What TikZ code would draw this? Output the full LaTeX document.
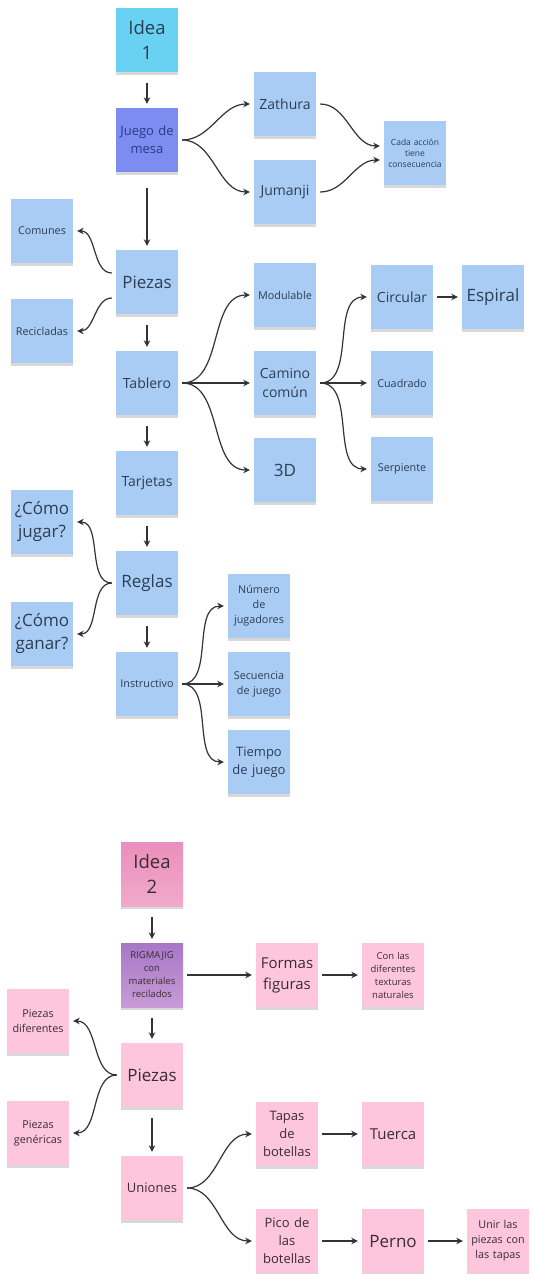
\documentclass[tikz,border=0pt]{standalone}
\usepackage{fontspec}
\setmainfont{Open Sans}
\usepackage{tikz}
\usetikzlibrary{positioning,shadows,arrows.meta}

\definecolor{notecyan}{HTML}{69D2F2}
\definecolor{notedeep}{HTML}{7D8CF1}
\definecolor{noteblue}{HTML}{A9CCF4}
\definecolor{notepink}{HTML}{FDC6DC}
\definecolor{ideapinktop}{HTML}{E98FBB}
\definecolor{ideapinkbot}{HTML}{F2A9CB}
\definecolor{rigtop}{HTML}{A877C6}
\definecolor{rigbot}{HTML}{C89BD7}
\definecolor{textblue}{HTML}{2B3E55}
\definecolor{textdeep}{HTML}{2C3A86}
\definecolor{textpink}{HTML}{3A2C33}
\definecolor{arrowc}{HTML}{333333}

\begin{document}
\begin{tikzpicture}[x=1pt,y=-1pt,node distance=100pt,on grid,
   note/.style={rectangle, minimum width=62pt, minimum height=64pt, inner sep=0pt,
     text width=62pt, align=center, fill=noteblue, text=textblue,
     drop shadow={opacity=0.3, shadow xshift=0pt, shadow yshift=-3pt}},
   pinknote/.style={note, fill=notepink, text=textpink},
   fxl/.style={font=\fontsize{18.5}{25}\selectfont},
   fbig/.style={font=\fontsize{17}{23}\selectfont},
   fmid/.style={font=\fontsize{14}{19}\selectfont},
   fnorm/.style={font=\fontsize{13}{18}\selectfont},
   fsmall/.style={font=\fontsize{10.8}{15}\selectfont},
   ftiny/.style={font=\fontsize{9.5}{13}\selectfont},
   fmini/.style={font=\fontsize{8.5}{11}\selectfont},
   vedge/.style={shorten <=11pt}]
   \path[use as bounding box, fill=white] (0,0) rectangle (534,1274);

   % Idea 1
   \node[note, fill=notecyan, fxl] (i1) at (147,40) {Idea\\1};
   \node[note, fill=notedeep, text=textdeep, fnorm] (jm) [below=100pt of i1] {Juego de\\mesa};
   \node[note, fmid] (za) [above right=36pt and 138pt of jm] {Zathura};
   \node[note, fmid] (ju) [below=88pt of za] {Jumanji};
   \node[note, fmini] (ca) [below right=49pt and 130pt of za] {Cada acción\\tiene\\consecuencia};
   \node[note, fbig] (pz) [below=142pt of jm] {Piezas};
   \node[note, fsmall] (co) [above left=51pt and 105pt of pz] {Comunes};
   \node[note, fsmall] (rc) [below=100pt of co] {Recicladas};
   \node[note, fmid] (tb) [below=101pt of pz] {Tablero};
   \node[note, fsmall] (mo) [above right=88pt and 138pt of tb] {Modulable};
   \node[note, fmid] (cc) [right=138pt of tb] {Camino\\común};
   \node[note, fbig] (td) [below=87pt of cc] {3D};
   \node[note, fmid] (ci) [above right=86pt and 117pt of cc] {Circular};
   \node[note, fsmall] (cu) [right=117pt of cc] {Cuadrado};
   \node[note, fsmall] (se) [below right=86pt and 117pt of cc] {Serpiente};
   \node[note, fbig] (es) [right=91pt of ci] {Espiral};
   \node[note, fmid] (ta) [below=100pt of tb] {Tarjetas};
   \node[note, fbig] (rg) [below=100pt of ta] {Reglas};
   \node[note, fbig] (cj) [above left=61pt and 105pt of rg] {¿Cómo\\jugar?};
   \node[note, fbig] (cg) [below left=51pt and 105pt of rg] {¿Cómo\\ganar?};
   \node[note, fsmall] (ins) [below=101pt of rg] {Instructivo};
   \node[note, fsmall] (nu) [above right=78pt and 112pt of ins] {Número\\de\\jugadores};
   \node[note, fsmall] (sq) [right=112pt of ins] {Secuencia\\de juego};
   \node[note, fnorm] (ti) [below right=78pt and 112pt of ins] {Tiempo\\de juego};

   % Idea 2
   \node[pinknote, top color=ideapinktop, bottom color=ideapinkbot, fxl] (i2) [below right=190pt and 5pt of ins] {Idea\\2};
   \node[pinknote, top color=rigtop, bottom color=rigbot, ftiny] (rm) [below=101pt of i2] {RIGMAJIG\\con\\materiales\\recilados};
   \node[pinknote, font=\fontsize{15}{21}\selectfont] (ff) [right=135pt of rm] {Formas\\figuras};
   \node[pinknote, ftiny] (cd) [right=106pt of ff] {Con las\\diferentes\\texturas\\naturales};
   \node[pinknote, fbig] (p2) [below=100pt of rm] {Piezas};
   \node[pinknote, fsmall] (pd) [above left=54pt and 114pt of p2] {Piezas\\diferentes};
   \node[pinknote, fsmall] (pg) [below left=58pt and 114pt of p2] {Piezas\\genéricas};
   \node[pinknote, fnorm] (un) [below=113pt of p2] {Uniones};
   \node[pinknote, fnorm] (tp) [above right=54pt and 135pt of un] {Tapas\\de\\botellas};
   \node[pinknote, fnorm] (pi) [below right=53pt and 135pt of un] {Pico de\\las\\botellas};
   \node[pinknote, font=\fontsize{15}{21}\selectfont] (tu) [right=106pt of tp] {Tuerca};
   \node[pinknote, fbig] (pe) [right=106pt of pi] {Perno};
   \node[pinknote, fsmall] (ul) [right=105pt of pe] {Unir las\\piezas con\\las tapas};

    \path[-{Stealth[length=6.5pt,width=6.5pt]}, line width=1.2pt, arrowc, shorten <=4pt, shorten >=4pt]
    (i1) edge [vedge] (jm)
    (jm) edge [vedge, shorten <=16pt] (pz)
         edge [out=0, in=180] (za)
         edge [out=0, in=180] (ju)
    (za) edge [out=0, in=180] ([yshift=7pt]ca.west)
    (ju) edge [out=0, in=180] ([yshift=-7pt]ca.west)
    ([yshift=9pt]pz.west) edge [out=180, in=0] (co)
    ([yshift=-16pt]pz.west) edge [out=180, in=0] (rc)
    (pz) edge [vedge] (tb)
    (tb) edge [out=0, in=180] (mo)
         edge (cc)
         edge [out=0, in=180] (td)
         edge [vedge] (ta)
    (cc) edge [out=0, in=180] (ci)
         edge (cu)
         edge [out=0, in=180] (se)
    (ci) edge (es)
    (ta) edge [vedge] (rg)
    (rg) edge [out=180, in=0] (cj)
         edge [out=180, in=0] (cg)
         edge [vedge] (ins)
    (ins) edge [out=0, in=180] (nu)
          edge (sq)
          edge [out=0, in=180] (ti)
    (i2) edge [vedge] (rm)
    (rm) edge (ff)
         edge [vedge] (p2)
    (ff) edge (cd)
    (p2) edge [out=180, in=0] (pd)
         edge [out=180, in=0] (pg)
         edge [vedge] (un)
    (un) edge [out=0, in=180] (tp)
         edge [out=0, in=180] (pi)
    (tp) edge (tu)
    (pi) edge (pe)
    (pe) edge (ul);
\end{tikzpicture}
\end{document}
